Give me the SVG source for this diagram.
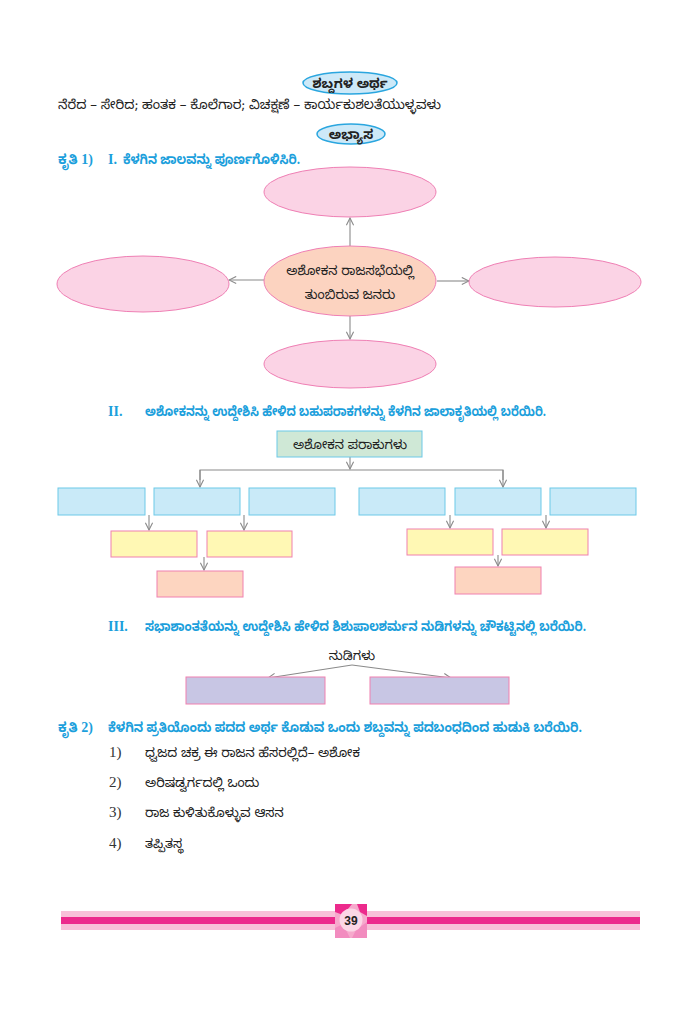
<svg xmlns="http://www.w3.org/2000/svg" width="699" height="1024" viewBox="0 0 699 1024">
<defs>
<style>
.k{font-family:"Noto Sans Kannada","Noto Sans",sans-serif;fill:#222;font-size:13px}
.h{font-family:"Noto Sans Kannada","Noto Sans",sans-serif;fill:#1c9fdc;font-size:13.5px;font-weight:bold}
.r{font-family:"Liberation Serif",serif;fill:#1c9fdc;font-size:14px;font-weight:bold}
.n{font-family:"Liberation Serif",serif;fill:#333;font-size:15px}
.pill{fill:#cde9f8;stroke:#2aa6df;stroke-width:1.5}
.el{fill:#fbd3e5;stroke:#ef7fb4;stroke-width:1}
.elc{fill:#fcd3c0;stroke:#ef7fb4;stroke-width:1}
.gb{fill:#cfe8d6;stroke:#6cc9e8;stroke-width:1}
.bb{fill:#c9eaf8;stroke:#6cc9e8;stroke-width:1}
.yb{fill:#fff8b4;stroke:#f080b0;stroke-width:1}
.ob{fill:#fdd5c0;stroke:#f080b0;stroke-width:1}
.vb{fill:#c8c6e4;stroke:#f080b0;stroke-width:1}
.c{stroke:#8a8a8a;stroke-width:1.1;fill:none}
.ca{stroke:#8a8a8a;stroke-width:1.1;fill:none;marker-end:url(#ah)}
</style>
<marker id="ah" viewBox="0 0 10 10" refX="9" refY="5" markerWidth="9" markerHeight="9" markerUnits="userSpaceOnUse" orient="auto">
<path d="M1,1 L9,5 L1,9" fill="none" stroke="#8a8a8a" stroke-width="1.2"/>
</marker>
</defs>
<rect width="699" height="1024" fill="#fff"/>

<g id="title-meaning">
<ellipse class="pill" cx="350" cy="83" rx="47" ry="11"/>
<text class="k" x="350" y="87.5" text-anchor="middle" font-weight="bold">ಶಬ್ದಗಳ ಅರ್ಥ</text>
</g>
<text class="k" x="58" y="109" textLength="383" lengthAdjust="spacingAndGlyphs">ನೆರೆದ – ಸೇರಿದ; ಹಂತಕ – ಕೊಲೆಗಾರ; ವಿಚಕ್ಷಣೆ – ಕಾರ್ಯಕುಶಲತೆಯುಳ್ಳವಳು</text>
<g id="title-practice">
<ellipse class="pill" cx="351" cy="134" rx="34" ry="10"/>
<text class="k" x="351" y="138.5" text-anchor="middle" font-weight="bold">ಅಭ್ಯಾಸ</text>
</g>

<text x="58" y="164"><tspan class="h">ಕೃತಿ</tspan><tspan class="r"> 1)</tspan></text>
<text class="r" x="108" y="164">I.</text>
<text class="h" x="123" y="164" textLength="177" lengthAdjust="spacingAndGlyphs">ಕೆಳಗಿನ ಜಾಲವನ್ನು ಪೂರ್ಣಗೊಳಿಸಿರಿ.</text>

<g id="connectors">
<line class="ca" x1="350" y1="246" x2="350" y2="218"/>
<line class="ca" x1="264" y1="280" x2="229" y2="280"/>
<line class="ca" x1="437" y1="281" x2="469" y2="281"/>
<line class="ca" x1="350" y1="316" x2="350" y2="339"/>

<line class="ca" x1="350" y1="457" x2="350" y2="469"/>
<polyline class="c" points="200,480 200,470 503,470 503,480"/>
<line class="ca" x1="200" y1="470" x2="200" y2="487"/>
<line class="ca" x1="503" y1="470" x2="503" y2="487"/>
<line class="ca" x1="149" y1="515" x2="149" y2="530"/>
<line class="ca" x1="244" y1="515" x2="244" y2="530"/>
<line class="ca" x1="450" y1="515" x2="450" y2="528"/>
<line class="ca" x1="546" y1="515" x2="546" y2="528"/>
<line class="ca" x1="204" y1="557" x2="204" y2="570"/>
<line class="ca" x1="498" y1="555" x2="498" y2="566"/>

<line class="ca" x1="352" y1="665" x2="268" y2="678"/>
<line class="ca" x1="352" y1="665" x2="451" y2="678"/>
</g>

<g id="node-top"><ellipse class="el" cx="350" cy="192" rx="86" ry="25"/></g>
<g id="node-center">
<ellipse class="elc" cx="350" cy="281" rx="86" ry="35"/>
<text class="k" x="350" y="275" text-anchor="middle">ಅಶೋಕನ ರಾಜಸಭೆಯಲ್ಲಿ</text>
<text class="k" x="350" y="299" text-anchor="middle">ತುಂಬಿರುವ ಜನರು</text>
</g>
<g id="node-left"><ellipse class="el" cx="143" cy="284" rx="86" ry="28"/></g>
<g id="node-right"><ellipse class="el" cx="555" cy="282" rx="86" ry="25"/></g>
<g id="node-bottom"><ellipse class="el" cx="350" cy="364" rx="86" ry="24"/></g>

<text class="r" x="108" y="416">II.</text>
<text class="h" x="145" y="416" textLength="401" lengthAdjust="spacingAndGlyphs">ಅಶೋಕನನ್ನು ಉದ್ದೇಶಿಸಿ ಹೇಳಿದ ಬಹುಪರಾಕಗಳನ್ನು ಕೆಳಗಿನ ಜಾಲಾಕೃತಿಯಲ್ಲಿ ಬರೆಯಿರಿ.</text>

<g id="node-root">
<rect class="gb" x="277" y="431" width="145" height="26"/>
<text class="k" x="350" y="448.5" text-anchor="middle">ಅಶೋಕನ ಪರಾಕುಗಳು</text>
</g>
<g id="node-b1"><rect class="bb" x="58" y="488" width="87" height="27"/></g>
<g id="node-b2"><rect class="bb" x="154" y="488" width="86" height="27"/></g>
<g id="node-b3"><rect class="bb" x="249" y="488" width="86" height="27"/></g>
<g id="node-b4"><rect class="bb" x="359" y="488" width="86" height="27"/></g>
<g id="node-b5"><rect class="bb" x="455" y="488" width="86" height="27"/></g>
<g id="node-b6"><rect class="bb" x="550" y="488" width="86" height="27"/></g>
<g id="node-y1"><rect class="yb" x="111" y="531" width="86" height="26"/></g>
<g id="node-y2"><rect class="yb" x="207" y="531" width="85" height="26"/></g>
<g id="node-y3"><rect class="yb" x="407" y="529" width="86" height="26"/></g>
<g id="node-y4"><rect class="yb" x="502" y="529" width="86" height="26"/></g>
<g id="node-o1"><rect class="ob" x="157" y="571" width="86" height="26"/></g>
<g id="node-o2"><rect class="ob" x="455" y="567" width="86" height="27"/></g>

<text class="r" x="108" y="631">III.</text>
<text class="h" x="145" y="631" textLength="441" lengthAdjust="spacingAndGlyphs">ಸಭಾಶಾಂತತೆಯನ್ನು ಉದ್ದೇಶಿಸಿ ಹೇಳಿದ ಶಿಶುಪಾಲಶರ್ಮನ ನುಡಿಗಳನ್ನು ಚೌಕಟ್ಟಿನಲ್ಲಿ ಬರೆಯಿರಿ.</text>

<g id="node-nudi">
<text class="k" x="352" y="660" text-anchor="middle" font-size="14">ನುಡಿಗಳು</text>
</g>
<g id="node-v1"><rect class="vb" x="186" y="677" width="139" height="27"/></g>
<g id="node-v2"><rect class="vb" x="370" y="677" width="139" height="27"/></g>

<text x="58" y="732"><tspan class="h">ಕೃತಿ</tspan><tspan class="r"> 2)</tspan></text>
<text class="h" x="108" y="732" textLength="474" lengthAdjust="spacingAndGlyphs">ಕೆಳಗಿನ ಪ್ರತಿಯೊಂದು ಪದದ ಅರ್ಥ ಕೊಡುವ ಒಂದು ಶಬ್ದವನ್ನು ಪದಬಂಧದಿಂದ ಹುಡುಕಿ ಬರೆಯಿರಿ.</text>

<text class="n" x="109" y="757">1)</text>
<text class="k" x="145" y="757">ಧ್ವಜದ ಚಕ್ರ ಈ ರಾಜನ ಹೆಸರಲ್ಲಿದೆ– ಅಶೋಕ</text>
<text class="n" x="109" y="787">2)</text>
<text class="k" x="145" y="787">ಅರಿಷಡ್ವರ್ಗದಲ್ಲಿ ಒಂದು</text>
<text class="n" x="109" y="817">3)</text>
<text class="k" x="145" y="817">ರಾಜ ಕುಳಿತುಕೊಳ್ಳುವ ಆಸನ</text>
<text class="n" x="109" y="848">4)</text>
<text class="k" x="145" y="848">ತಪ್ಪಿತಸ್ಥ</text>

<g id="footer">
<rect x="61" y="911" width="579" height="19" fill="#f8c0d8"/>
<rect x="61" y="917" width="579" height="7" fill="#ec2a8c"/>
<rect x="335" y="904" width="32" height="34" fill="#f6a9cc"/>
<polygon points="335,904 352,904 343,915 335,912" fill="#ec2a8c"/>
<polygon points="357,904 367,904 367,916 360,912" fill="#ec2a8c"/>
<polygon points="335,928 343,924 350,938 335,938" fill="#f28cbf"/>
<polygon points="356,930 367,922 367,938 352,938" fill="#f28cbf"/>
<circle cx="351" cy="920" r="11.5" fill="#fbd6e6"/>
<text x="351" y="924.5" text-anchor="middle" font-family="'Liberation Sans',sans-serif" font-size="12" font-weight="bold" fill="#222">39</text>
</g>
</svg>
